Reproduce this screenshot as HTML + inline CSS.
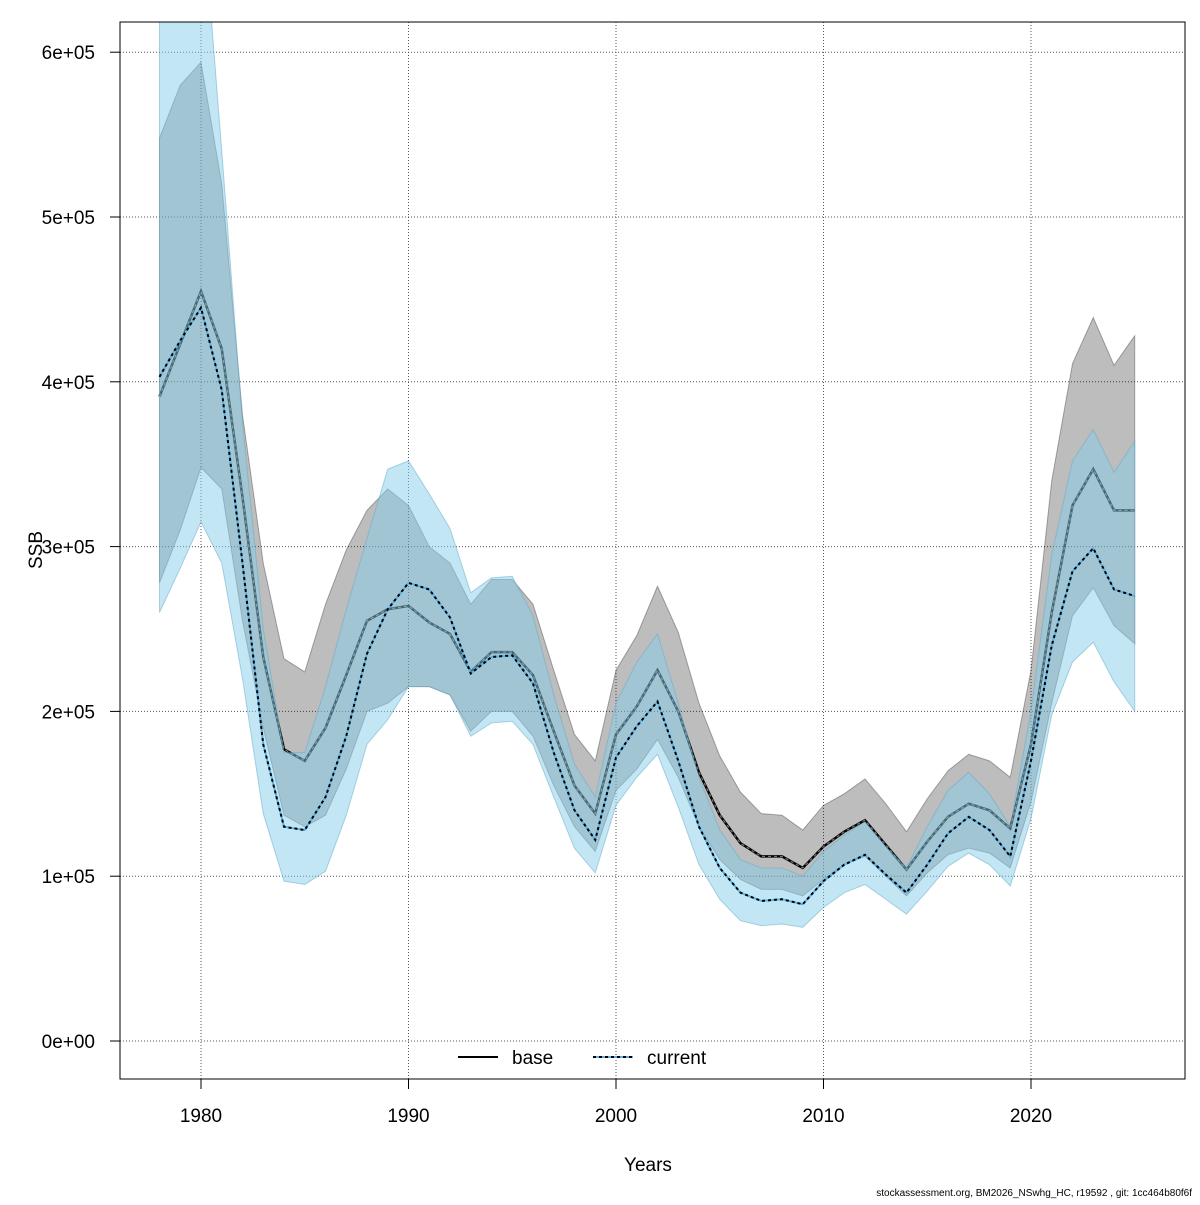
<!DOCTYPE html>
<html><head><meta charset="utf-8"><style>
body{margin:0;background:#fff;}
svg text{font-family:"Liberation Sans",sans-serif;}
</style></head><body>
<svg id="chart" width="1200" height="1200" xmlns="http://www.w3.org/2000/svg">
<defs><clipPath id="pc"><rect x="120" y="22" width="1065" height="1057"/></clipPath></defs>
<g id="grid"></g>
<g id="plot" clip-path="url(#pc)"></g>
<rect x="120" y="22" width="1065" height="1057" fill="none" stroke="#000"/>
<g id="axes"></g>
<text x="648" y="1171" font-size="19" text-anchor="middle">Years</text>
<text x="42" y="550" font-size="19" text-anchor="middle" transform="rotate(-90 42 550)">SSB</text>
<g>
<line x1="458" y1="1057" x2="498" y2="1057" stroke="#000" stroke-width="2"/>
<text x="512" y="1064" font-size="19">base</text>
<line x1="593" y1="1057" x2="633" y2="1057" stroke="#56B4E9" stroke-width="2"/>
<line x1="593" y1="1057" x2="633" y2="1057" stroke="#000" stroke-width="2" stroke-dasharray="3,3"/>
<text x="647" y="1064" font-size="19">current</text>
</g>
<text x="1192" y="1196" font-size="10" text-anchor="end">stockassessment.org, BM2026_NSwhg_HC, r19592 , git: 1cc464b80f6f</text>
</svg>
<script>
const years=[];for(let y=1978;y<=2025;y++)years.push(y);
const baseVals=[391,423,455,420,330,233,177,170,190,222,255,262,264,254,247,224,236,236,222,188,155,138,186,203,225,200,163,137,120,112,112,105,118,127,134,119,104,121,136,144,140,129,180,260,325,347,322,322];
const baseHi=[548,580,594,520,380,290,232,224,265,298,322,335,325,300,290,265,280,280,265,225,186,170,225,246,276,248,205,173,151,138,137,128,143,150,159,144,127,147,164,174,170,160,225,340,411,439,410,428];
const baseLo=[278,310,348,335,255,190,137,130,137,165,200,205,215,215,210,188,200,200,185,155,130,115,152,165,183,160,130,110,98,92,92,88,98,107,112,100,88,102,113,117,114,105,145,205,258,275,252,241];
const curVals=[403,425,445,395,290,180,130,128,148,185,235,262,278,274,257,223,233,234,217,175,140,122,172,191,206,170,130,105,90,85,86,83,97,107,113,101,90,107,126,136,128,112,170,240,285,299,274,270];
const curHi=[700,700,700,540,375,250,175,175,215,262,305,347,352,332,311,272,281,282,258,210,168,148,205,230,247,205,160,128,110,105,105,100,115,125,133,118,105,130,152,163,150,130,200,295,352,371,345,364];
const curLo=[260,287,315,290,220,138,97,95,103,137,180,195,215,215,210,185,193,194,180,148,117,102,143,160,174,142,107,86,73,70,71,69,81,90,95,86,77,91,106,114,107,94,135,198,230,242,218,200];
const xTicks=[1980,1990,2000,2010,2020];
const yTicks=[0,1,2,3,4,5,6];
const yTickLabels=["0e+00","1e+05","2e+05","3e+05","4e+05","5e+05","6e+05"];
const NS="http://www.w3.org/2000/svg";
function X(yr){return 201+(yr-1980)*20.75;}
function Y(k){return 1041-k*1.648;}
function mk(tag,attrs,parent){const e=document.createElementNS(NS,tag);for(const k in attrs)e.setAttribute(k,attrs[k]);document.getElementById(parent).appendChild(e);return e;}
xTicks.forEach(t=>{
 const g=mk('line',{x1:X(t),x2:X(t),y1:22,y2:1079,stroke:'#555','stroke-dasharray':'1,2'},'grid');
 
 
 const tk=mk('line',{x1:X(t),x2:X(t),y1:1079,y2:1089,stroke:'#000'},'axes');
 
 
 const tx=mk('text',{x:X(t),y:1122,'font-size':19,'text-anchor':'middle'},'axes');tx.textContent=t;
 
 
});
yTicks.forEach((t,i)=>{
 const g=mk('line',{x1:120,x2:1185,y1:Y(t*100),y2:Y(t*100),stroke:'#555','stroke-dasharray':'1,2'},'grid');
 
 
 const tk=mk('line',{x1:110,x2:120,y1:Y(t*100),y2:Y(t*100),stroke:'#000'},'axes');
 
 
 const tx=mk('text',{x:95,y:Y(t*100)+7,'font-size':19,'text-anchor':'end'},'axes');tx.textContent=yTickLabels[i];
 
 
});
function band(hi,lo,fill,stroke,name){
 let d='M'+years.map((y,i)=>X(y)+','+Y(hi[i])).join('L');
 d+='L'+years.slice().reverse().map((y,j)=>{const i=years.length-1-j;return X(y)+','+Y(lo[i]);}).join('L')+'Z';
 const p=mk('path',{d:d,fill:fill,stroke:stroke,'stroke-width':1},'plot');
 
 
}
function line(vals,stroke,dash,w,name){
 const pts=years.map((y,i)=>X(y)+','+Y(vals[i])).join(' ');
 const a={points:pts,fill:'none',stroke:stroke,'stroke-width':w};if(dash)a['stroke-dasharray']=dash;
 const l=mk('polyline',a,'plot');
 
 
}
band(baseHi,baseLo,'rgba(0,0,0,0.26)','rgba(0,0,0,0.3)','base-ci-band');
line(baseVals,'#000',null,2.5,'base-line');
line(baseVals,'#777','3,3',1.2,'base-line-dash');
band(curHi,curLo,'rgba(135,206,235,0.5)','rgba(100,170,200,0.5)','current-ci-band');
line(curVals,'#56B4E9',null,2,'current-line-blue');
line(curVals,'#000','3,3',2,'current-line');
</script>
</body></html>
